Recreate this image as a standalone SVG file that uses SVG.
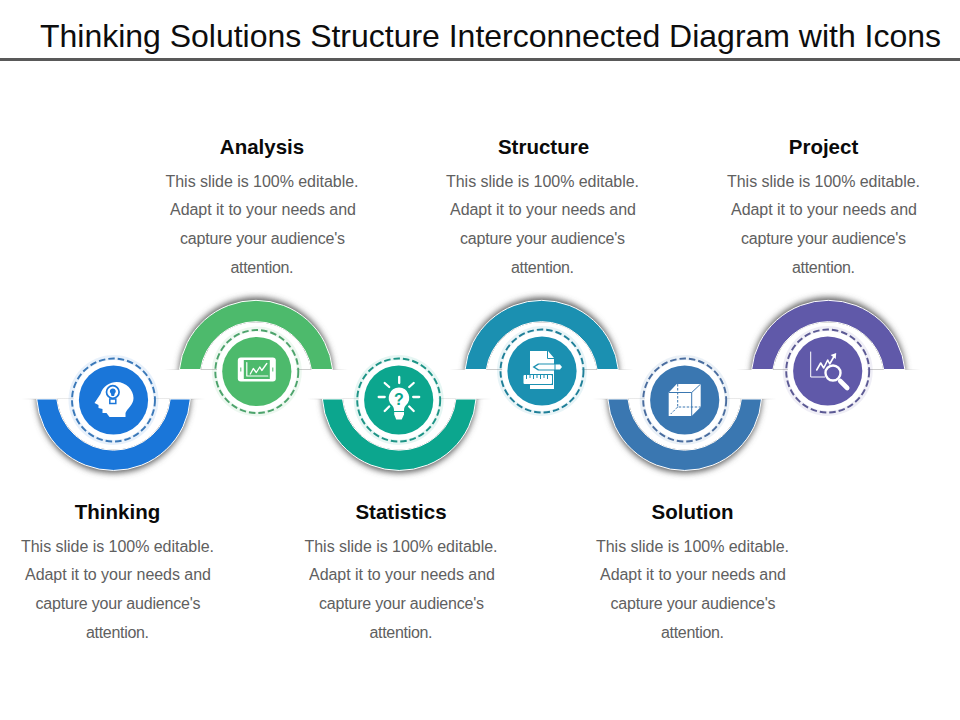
<svg xmlns="http://www.w3.org/2000/svg" width="960" height="720" viewBox="0 0 960 720">
<style>
text{font-family:"Liberation Sans",Arial,sans-serif;text-anchor:middle}
.title{font-size:32px;fill:#0d0d0d;text-anchor:start}
.head{font-size:20.5px;font-weight:700;fill:#0a0a0a}
.body{font-size:16px;fill:#606060}
.c1{color:#1a76d9;--d:#3a78b8}.c2{color:#4dba6c;--d:#4da36c}.c3{color:#0ca68e;--d:#1d9486}
.c4{color:#1b90b1;--d:#1f7f98}.c5{color:#3a77b1;--d:#4a6d9f}.c6{color:#6059a9;--d:#5c5a94}
.disc{fill:currentColor}
.rim{stroke:#fff;stroke-width:1}
.ic{fill:#fff}
.icl{fill:none;stroke:#fff;stroke-linecap:round;stroke-linejoin:round}
.cut{fill:currentColor;stroke:none}
.cutl{fill:none;stroke:currentColor;stroke-linecap:butt}
.dash{fill:none;stroke:var(--d);stroke-width:1.9;stroke-dasharray:6.5 3}
.halo{fill:currentColor;fill-opacity:.1}
</style>
<defs>
<filter id="soft" x="-20%" y="-20%" width="140%" height="140%"><feGaussianBlur stdDeviation="3"/></filter>
<linearGradient id="fade"><stop offset="0" stop-color="#cfcfcf" stop-opacity="0"/><stop offset=".12" stop-color="#d4d4d4"/><stop offset=".88" stop-color="#d4d4d4"/><stop offset="1" stop-color="#cfcfcf" stop-opacity="0"/></linearGradient>
<clipPath id="belowCut"><rect x="-110" y="0" width="220" height="110"/></clipPath>
<clipPath id="aboveCut"><rect x="-110" y="-110" width="220" height="110"/></clipPath>
<g id="lowerRing">
<rect x="-92" y="-.5" width="184" height="1" fill="url(#fade)"/>
<g clip-path="url(#belowCut)"><circle cx="0" cy="-3" r="77" fill="#5c5c5c" filter="url(#soft)"/></g>
<path class="disc rim" d="M-76.8 0A77 77 0 0 0 76.8 0H56.7A57 57 0 0 1-56.7 0Z"/>
<path fill="#fff" d="M-56.2 0A56.5 56.5 0 0 0 56.2 0Z"/>
</g>
<g id="upperRing">
<rect x="-92" y="-.5" width="184" height="1" fill="url(#fade)"/>
<g clip-path="url(#aboveCut)"><circle cx="0" cy="5" r="77" fill="#5c5c5c" filter="url(#soft)"/></g>
<path class="disc rim" d="M-76.6 0A77 77 0 0 1 76.6 0H55.4A56 56 0 0 0-55.4 0Z"/>
<path fill="#fff" d="M-54.9 0A55.5 55.5 0 0 1 54.9 0Z"/>
</g>
<g id="badge">
<circle class="halo" r="45"/>
<circle r="40" fill="#fff"/>
<circle class="dash" r="41.5"/>
<circle class="disc" r="34.6"/>
</g>
</defs>

<rect width="960" height="720" fill="#fff"/>
<text class="title" x="40" y="47" textLength="901">Thinking Solutions Structure Interconnected Diagram with Icons</text>
<rect x="0" y="58" width="960" height="3" fill="#595959"/>

<g id="connectors"></g>

<g id="node-thinking" class="c1">
<use href="#lowerRing" transform="translate(113.5 399)"/>
<g transform="translate(113.5 400)">
<use href="#badge"/>
<path class="ic" d="M-13-6C-11-14-3-18 3-18C13-18 20-10 20-2C20 5 14 8 12 13V17H-4L-7 13H-11V9L-15 8V5L-19 3Z"/>
<circle class="cutl" cx="-.7" cy="-8" r="6.3" stroke-width="1.7"/>
<path class="cut" d="M-.7-11.5A2.8 2.8 0 0 1 1.2-6.5L.6-4H-2L-2.6-6.5A2.8 2.8 0 0 1-.7-11.5Z"/>
<rect class="cutl" x="-3.7" y="-1" width="6" height="4.5" stroke-width="1.5"/>
</g>
<text class="head" x="117.5" y="518.5">Thinking</text>
<text class="body" x="117.5" y="551.5" textLength="193">This slide is 100% editable.</text>
<text class="body" x="118" y="580" textLength="186">Adapt it to your needs and</text>
<text class="body" x="118" y="608.5" textLength="165">capture your audience's</text>
<text class="body" x="117.5" y="637.5" textLength="63">attention.</text>
</g>

<g id="node-analysis" class="c2">
<use href="#upperRing" transform="translate(256 369.5)"/>
<g transform="translate(256.8 371.5)">
<use href="#badge"/>
<rect class="ic" x="-19" y="-14" width="38" height="24" rx="3"/>
<rect class="cut" x="-13" y="-11.5" width="26" height="19"/>
<path class="icl" stroke-width="1.2" d="M-10-9V4.5H11"/>
<path class="icl" stroke-width="1.3" d="M-6.5 2.5L-3.5-3L-.5 1L3-4.5L5-1L10-8"/>
<rect class="cut" x="-16.5" y="-4" width="1" height="4"/>
<rect class="cut" x="15.5" y="-4" width="1" height="4"/>
</g>
<text class="head" x="262" y="153.5">Analysis</text>
<text class="body" x="262" y="186.5" textLength="193">This slide is 100% editable.</text>
<text class="body" x="263" y="215" textLength="186">Adapt it to your needs and</text>
<text class="body" x="262.5" y="243.5" textLength="165">capture your audience's</text>
<text class="body" x="262" y="272.5" textLength="63">attention.</text>
</g>

<g id="node-statistics" class="c3">
<use href="#lowerRing" transform="translate(399.2 399)"/>
<g transform="translate(398.7 400)">
<use href="#badge"/>
<path class="ic" d="M.3-12.5A10.3 10.3 0 0 1 7 5.5C5.5 7 5.3 8.5 5.3 11H-4.7C-4.7 8.5-5 7-6.5 5.5A10.3 10.3 0 0 1 .3-12.5Z"/>
<path class="ic" d="M-4.5 12H5.3V14.5L3 19.5H-2.5L-4.5 14.5Z"/>
<path class="icl" stroke-width="2.3" d="M.5-23V-17M-20-3H-14M14.5-3H20.5M-14-17L-9.5-13M15-17L10.5-13M-14 11L-9.5 6.5M15 11L10.5 6.5"/>
<text x=".3" y="4.5" font-size="16" font-weight="700" fill="#0ca68e">?</text>
</g>
<text class="head" x="401" y="518.5">Statistics</text>
<text class="body" x="401" y="551.5" textLength="193">This slide is 100% editable.</text>
<text class="body" x="402" y="580" textLength="186">Adapt it to your needs and</text>
<text class="body" x="401.5" y="608.5" textLength="165">capture your audience's</text>
<text class="body" x="401" y="637.5" textLength="63">attention.</text>
</g>

<g id="node-structure" class="c4">
<use href="#upperRing" transform="translate(541.7 369.5)"/>
<g transform="translate(542 371)">
<use href="#badge"/>
<path class="ic" d="M-12-20H6L12-13V18H-12Z"/>
<path class="cutl" stroke-width="1" d="M5.5-20V-12.5H12"/>
<path class="cut" d="M-9.5-4L-4-7.5H22V-.5H-4Z"/>
<path class="ic" d="M-7-4L-3-6.5H12.5V-1.5H-3Z"/>
<path class="ic" d="M13.5-6.5H18L20-4L18-1.5H13.5Z"/>
<rect class="cut" x="-19.5" y="3" width="30.5" height="11"/>
<rect class="ic" x="-18.5" y="4" width="28.5" height="9" rx="1"/>
<path class="cutl" stroke-width="1" d="M-15.5 4V8M-12 4V7M-8.5 4V8M-5 4V7M-1.5 4V8M2 4V7M5.5 4V8"/>
</g>
<text class="head" x="543.5" y="153.5">Structure</text>
<text class="body" x="542.5" y="186.5" textLength="193">This slide is 100% editable.</text>
<text class="body" x="543" y="215" textLength="186">Adapt it to your needs and</text>
<text class="body" x="542.5" y="243.5" textLength="165">capture your audience's</text>
<text class="body" x="542.5" y="272.5" textLength="63">attention.</text>
</g>

<g id="node-solution" class="c5">
<use href="#lowerRing" transform="translate(684.7 399)"/>
<g transform="translate(684.7 400)">
<use href="#badge"/>
<path class="ic" d="M-16-7.5L-8-16H16V7L7 16H-16Z"/>
<path class="cutl" stroke-width="1" d="M-16-7.5H7V16M7-7.5L16-16"/>
<path class="cutl" stroke-width="1" stroke-dasharray="2.5 1.5" d="M-7-16V7H16M-7 7L-14 14"/>
</g>
<text class="head" x="692.5" y="518.5">Solution</text>
<text class="body" x="692.5" y="551.5" textLength="193">This slide is 100% editable.</text>
<text class="body" x="693" y="580" textLength="186">Adapt it to your needs and</text>
<text class="body" x="693" y="608.5" textLength="165">capture your audience's</text>
<text class="body" x="692.5" y="637.5" textLength="63">attention.</text>
</g>

<g id="node-project" class="c6">
<use href="#upperRing" transform="translate(828.3 369.5)"/>
<g transform="translate(827.7 371)">
<use href="#badge"/>
<path class="icl" stroke-width="1" d="M-17-19V6H-3"/>
<path class="icl" stroke-width="1.6" d="M-11-1L-7-8L-4-3L0-11L2-7L6-14"/>
<path class="ic" d="M3-16L8.5-18L8-12Z"/>
<circle cx="5.3" cy="2" r="7.5" fill="#6059a9" stroke="#fff" stroke-width="2.4"/>
<path class="icl" stroke-width="4.6" d="M12.5 10L19.5 17"/>
</g>
<text class="head" x="823.5" y="153.5">Project</text>
<text class="body" x="823.5" y="186.5" textLength="193">This slide is 100% editable.</text>
<text class="body" x="824" y="215" textLength="186">Adapt it to your needs and</text>
<text class="body" x="823.5" y="243.5" textLength="165">capture your audience's</text>
<text class="body" x="823.5" y="272.5" textLength="63">attention.</text>
</g>
</svg>
